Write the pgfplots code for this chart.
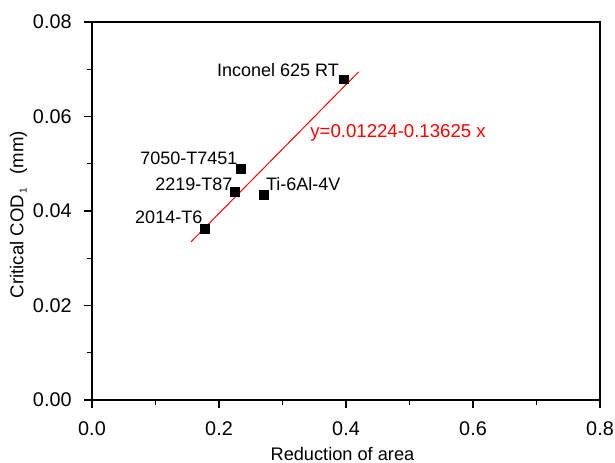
\documentclass[border=0pt]{standalone}
\usepackage{fontspec}
\setmainfont{Liberation Sans}
\usepackage{pgfplots}
\pgfplotsset{compat=1.18}
\usetikzlibrary{calc}
\definecolor{fitred}{RGB}{255,0,0}
\begin{document}
\begin{tikzpicture}
\begin{axis}[
  name=ax,
  scale only axis,
  width=254pt, height=189pt,
  xmin=0, xmax=0.8, ymin=0, ymax=0.08,
  xtick={0,0.2,0.4,0.6,0.8},
  ytick={0,0.02,0.04,0.06,0.08},
  minor xtick={0.1,0.3,0.5,0.7},
  minor ytick={0.01,0.03,0.05,0.07},
  xticklabels={0.0,0.2,0.4,0.6,0.8},
  yticklabels={0.00,0.02,0.04,0.06,0.08},
  scaled x ticks=false, scaled y ticks=false,
  tick align=outside,
  xtick pos=bottom, ytick pos=left,
  major tick length=4pt, minor tick length=2.3pt,
  every tick/.style={black, line width=0.6pt},
  axis line style={line width=0.65pt},
  tick label style={font=\fontsize{9.9}{11}\selectfont},
  xticklabel style={yshift=-3.3pt},
  yticklabel style={xshift=-2.7pt},
  /pgf/number format/assume math mode=true,
  every axis x label/.style={at={(axis description cs:0.493,0)}, anchor=base, yshift=-30pt, font=\fontsize{9.1}{11}\selectfont},
  every axis y label/.style={at={(axis description cs:-0.1447,0.4905)}, anchor=center, rotate=90, font=\fontsize{9.3}{11}\selectfont},
  xlabel={Reduction of area},
  ylabel={Critical COD\raisebox{-0.35ex}{\fontsize{5}{6}\selectfont\hspace{0.1em}1}\hspace{0.75em}(mm)},
  clip=false,
]
\addplot[only marks, mark=square*, mark size=2.2pt, black] coordinates {
  (0.178,0.03625)
  (0.2252,0.04402)
  (0.2351,0.04895)
  (0.2713,0.04345)
  (0.3973,0.06787)
};
\addplot[fitred, line width=0.5pt] coordinates {(0.156,0.03349) (0.42,0.06947)};
\begin{scope}[every node/.style={inner sep=0pt, font=\fontsize{9}{11}\selectfont}]
\node[anchor=base east] at (axis cs:0.3894,0.06857) {Inconel 625 RT};
\node[anchor=base east] at (axis cs:0.2295,0.04974) {7050-T7451};
\node[anchor=base east] at (axis cs:0.2216,0.04444) {2219-T87};
\node[anchor=base west] at (axis cs:0.2735,0.04444) {Ti-6Al-4V};
\node[anchor=base east] at (axis cs:0.1743,0.03725) {2014-T6};
\node[anchor=base west, text=fitred, font=\fontsize{9.3}{11}\selectfont] at (axis cs:0.3433,0.05566) {y=0.01224-0.13625 x};
\end{scope}
\end{axis}
\pgfresetboundingbox
\path ($(ax.south west)+(-46pt,-31pt)$) rectangle ($(ax.north east)+(7.5pt,11pt)$);
\end{tikzpicture}
\end{document}
